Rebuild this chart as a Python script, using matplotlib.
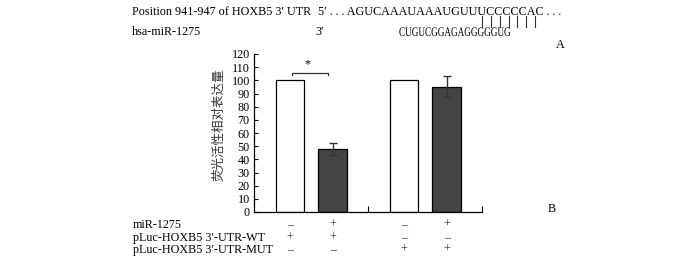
import matplotlib
matplotlib.use("Agg")
import matplotlib.pyplot as plt
from matplotlib.lines import Line2D
from matplotlib.textpath import TextPath
from matplotlib.patches import PathPatch
from matplotlib.font_manager import FontProperties
import matplotlib.transforms as mtransforms

# ---- data ----
conditions = ["WT -", "WT +", "MUT -", "MUT +"]
positions = [0.315, 0.69, 1.315, 1.69]
values = [100, 48, 100, 95]
errors = [0, 4.5, 0, 8]
bar_colors = ["white", "#444444", "white", "#444444"]
yticks = list(range(0, 121, 10))
row_labels = ["miR-1275", "pLuc-HOXB5 3\u2032-UTR-WT", "pLuc-HOXB5 3\u2032-UTR-MUT"]
row_signs = [["\u2013", "+", "\u2013", "+"],
             ["+", "+", "\u2013", "\u2013"],
             ["\u2013", "\u2013", "+", "+"]]
ylabel = "荧光活性相对表达量"
mirna_seq = "CUGUCGGAGAGGGGGUG"

SERIF = ["Liberation Serif", "DejaVu Serif"]
CJK = ["Noto Sans CJK SC", "DejaVu Sans"]
FS = 8.7

W, H = 700, 262
fig = plt.figure(figsize=(W / 100, H / 100), dpi=100)
ax = fig.add_axes([254 / W, 1 - 212 / H, (482 - 254) / W, (212 - 54) / H])

ax.bar(positions, values, width=0.25, color=bar_colors, edgecolor="black", linewidth=0.9, zorder=2)
err_idx = [i for i, e in enumerate(errors) if e > 0]
ax.errorbar([positions[i] for i in err_idx], [values[i] for i in err_idx],
            yerr=[errors[i] for i in err_idx], fmt="none", ecolor="#333333",
            elinewidth=1.0, capsize=3.2, capthick=1.0, zorder=3)

ax.set_xlim(0, 2)
ax.set_ylim(0, 120)
ax.set_yticks(yticks)
ax.set_yticklabels([str(t) for t in yticks], fontfamily=SERIF, fontsize=FS)
ax.tick_params(axis="y", direction="in", length=3, width=0.8, pad=3)
ax.set_xticks([1, 2])
ax.set_xticklabels([])
ax.tick_params(axis="x", direction="in", length=4, width=0.8)
for s in ["top", "right"]:
    ax.spines[s].set_visible(False)
for s in ["left", "bottom"]:
    ax.spines[s].set_linewidth(0.9)

ax.set_ylabel(ylabel, fontfamily=CJK, fontsize=9, color="#333333")
ax.yaxis.set_label_coords((225 - 254) / (482 - 254), (212 - 125) / 158)

# significance bracket
ax.plot([0.33, 0.33, 0.65, 0.65], [104.3, 105.8, 105.8, 104.3], color="#333333", lw=0.9, clip_on=False)
ax.text(0.47, 112.5, "*", ha="center", va="center", fontsize=FS, fontfamily=SERIF)

# condition table below
trans = mtransforms.blended_transform_factory(ax.transData, fig.transFigure)
row_y = [1 - 225 / H, 1 - 238 / H, 1 - 250 / H]
for lab, yy, signs in zip(row_labels, row_y, row_signs):
    fig.text(133 / W, yy, lab, ha="left", va="center", fontsize=FS, fontfamily=SERIF)
    for p, sgn in zip(positions, signs):
        ax.text(p, yy, sgn, transform=trans, ha="center", va="center", fontsize=FS,
                fontfamily=SERIF, color="#333333", clip_on=False)

# sequence annotation (panel A)
fig.text(132 / W, 1 - 12 / H, "Position 941-947 of HOXB5 3\u2032 UTR", ha="left", va="center",
         fontsize=FS, fontfamily=SERIF)
fig.text(318 / W, 1 - 12 / H, "5\u2032 . . . AGUCAAAUAAAUGUUUCCCCCAC . . .", ha="left", va="center",
         fontsize=FS, fontfamily=SERIF)
fig.text(132 / W, 1 - 32 / H, "hsa-miR-1275", ha="left", va="center", fontsize=FS, fontfamily=SERIF)
fig.text(315 / W, 1 - 32 / H, "3\u2032", ha="left", va="center", fontsize=FS, fontfamily=SERIF)

# horizontally condensed miRNA sequence
tp = TextPath((0, 0), mirna_seq, size=FS, prop=FontProperties(family="Liberation Serif"))
ext = tp.get_extents()
px_per_pt = fig.dpi / 72.0
target_w = 510 - 399
sx = target_w / (ext.width * px_per_pt)
tr = mtransforms.Affine2D().scale(sx * px_per_pt, 1.08 * px_per_pt).translate(399, H - 36)
fig.add_artist(PathPatch(tp, transform=tr, color="black", lw=0))

n_pairs = 7
x0, x1 = 482, 535
for k in range(n_pairs):
    xx = (x0 + (x1 - x0) * k / (n_pairs - 1)) / W
    fig.add_artist(Line2D([xx, xx], [1 - 16 / H, 1 - 27 / H], color="#333333", lw=0.8))

fig.text(560 / W, 1 - 45 / H, "A", ha="center", va="center", fontsize=FS, fontfamily=SERIF)
fig.text(552 / W, 1 - 209 / H, "B", ha="center", va="center", fontsize=FS, fontfamily=SERIF)

fig.savefig("out.png", dpi=100)
